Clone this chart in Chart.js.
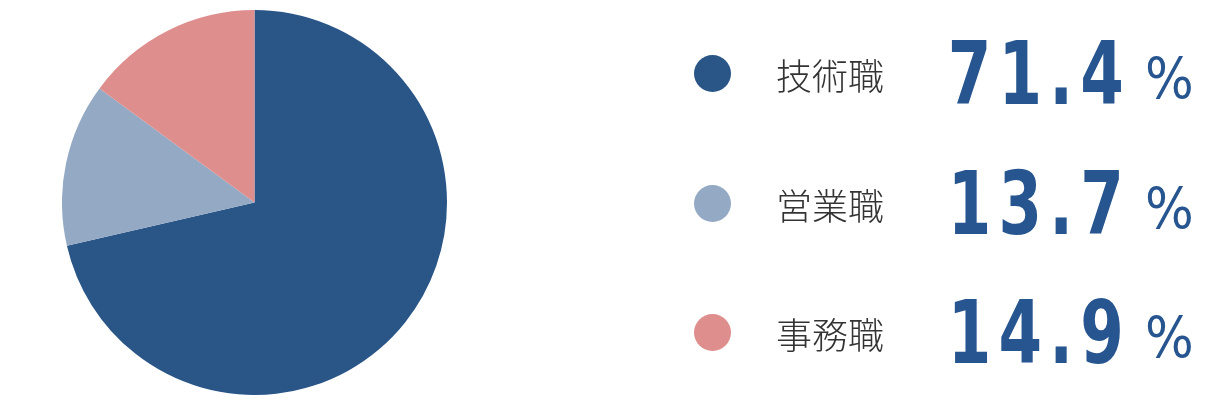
<!DOCTYPE html>
<html>
<head>
<meta charset="utf-8">
<script src="https://cdn.jsdelivr.net/npm/chart.js@4"></script>
<style>
  html, body { margin: 0; padding: 0; background: #fff; }
  body { width: 1205px; height: 403px; position: relative; overflow: hidden; }
  #pieBox { position: absolute; left: 62px; top: 10px; width: 385px; height: 385px; }
  .row { position: absolute; left: 0; width: 1205px; height: 100px; }
  .dot { position: absolute; left: 694px; top: 31px; width: 37px; height: 37px; border-radius: 50%; }
  .label { position: absolute; left: 776px; top: 0; line-height: 100px; font-family: "Noto Sans CJK JP", sans-serif; font-weight: 300; font-size: 36px; color: #333; }
  .num { position: absolute; right: 74px; top: 0; line-height: 100px; font-family: "DejaVu Sans Condensed", "DejaVu Sans", sans-serif; font-weight: bold; font-size: 87px; color: #26558f; letter-spacing: 9px; transform: scaleX(0.8); transform-origin: right center; }
  .pct { position: absolute; left: 1145px; top: 5px; line-height: 100px; font-family: "DejaVu Sans Condensed", "DejaVu Sans", sans-serif; font-weight: 300; font-size: 57px; color: #26558f; }
</style>
</head>
<body>
<div id="pieBox"><canvas id="pieChart"></canvas></div>
<div id="legend"></div>
<script>
// 職種別 構成比
const categories = ['技術職', '営業職', '事務職'];
const shares = [71.4, 13.7, 14.9];
const colors = ['#2a5587', '#94a9c4', '#df8e8e'];
const rowCenters = [74, 204, 333];

const legend = document.getElementById('legend');
categories.forEach((name, i) => {
    const row = document.createElement('div');
    row.className = 'row';
    row.style.top = (rowCenters[i] - 50) + 'px';
    row.innerHTML =
        `<div class="dot" style="background:${colors[i]}"></div>` +
        `<div class="label">${name}</div>` +
        `<div class="num">${shares[i].toFixed(1)}</div>` +
        `<div class="pct">%</div>`;
    legend.appendChild(row);
});

new Chart(document.getElementById('pieChart'), {
    type: 'pie',
    data: {
        labels: categories,
        datasets: [{
            data: shares,
            backgroundColor: colors,
            borderWidth: 0
        }]
    },
    options: {
        responsive: true,
        maintainAspectRatio: false,
        animation: false,
        layout: { padding: 0 },
        plugins: {
            legend: { display: false },
            tooltip: { enabled: false }
        }
    }
});
</script>
</body>
</html>
